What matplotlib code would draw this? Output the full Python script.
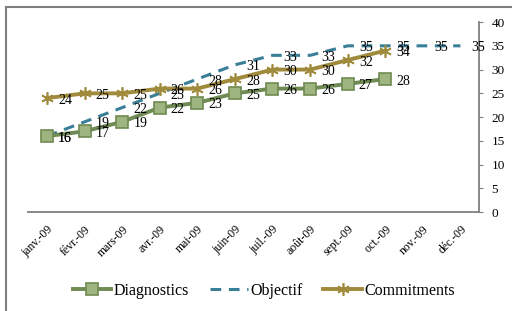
import matplotlib
matplotlib.use("Agg")
import matplotlib.pyplot as plt
from matplotlib.patches import Rectangle

# =============================
# DATA
# =============================
months = ["janv.-09", "févr.-09", "mars-09", "avr.-09", "mai-09", "juin-09",
          "juil.-09", "août-09", "sept.-09", "oct.-09", "nov.-09", "déc.-09"]
diagnostics = [16, 17, 19, 22, 23, 25, 26, 26, 27, 28]
objectif = [16, 19, 22, 25, 28, 31, 33, 33, 35, 35, 35, 35]
commitments = [24, 25, 25, 26, 26, 28, 30, 30, 32, 34]
y_ticks = [0, 5, 10, 15, 20, 25, 30, 35, 40]

# =============================
# STYLE
# =============================
plt.rcParams["font.family"] = ["Liberation Serif", "DejaVu Serif"]
GREEN = "#6f8a52"
GREEN_FILL = "#9fb57f"
BLUE = "#3a7f98"
GOLD = "#a08a3c"

fig = plt.figure(figsize=(5.12, 3.11), dpi=100)
ax = fig.add_axes([0.055, 0.318, 0.881, 0.611])

# outer frame
fig.patches.append(Rectangle((0.012, -0.2), 1.2, 1.177, transform=fig.transFigure,
                             fill=False, edgecolor="#7f7f7f", linewidth=1.5))

x_d = list(range(len(diagnostics)))
x_o = list(range(len(objectif)))
x_c = list(range(len(commitments)))

ax.plot(x_d, diagnostics, color=GREEN, lw=2.8, marker="s", markersize=8,
        markerfacecolor=GREEN_FILL, markeredgecolor=GREEN, markeredgewidth=1.2,
        label="Diagnostics", zorder=3)
ax.plot(x_o, objectif, color=BLUE, lw=2.2, linestyle=(0, (3.5, 2.5)),
        label="Objectif", zorder=2)
ax.plot(x_c, commitments, color=GOLD, lw=2.8, marker=(6, 2, 0), markersize=9,
        markeredgecolor=GOLD, markeredgewidth=1.2, label="Commitments", zorder=3)

# data labels
for series, xs in ((diagnostics, x_d), (objectif, x_o), (commitments, x_c)):
    for xi, v in zip(xs, series):
        ax.annotate(str(v), (xi, v), xytext=(8, -1.5), textcoords="offset points",
                    ha="left", va="center", fontsize=10, color="black")

ax.set_xlim(-0.5, len(months) - 0.5)
ax.set_ylim(0, 40)
ax.set_xticks(range(len(months)))
ax.set_xticklabels(months, rotation=45, ha="right", rotation_mode="anchor",
                   fontsize=8.5)
ax.tick_params(axis="x", length=0, pad=8)
ax.yaxis.tick_right()
ax.set_yticks(y_ticks)
ax.tick_params(axis="y", labelsize=9.5, length=3, pad=6, color="#7f7f7f",
               direction="out")

for side in ("top", "left"):
    ax.spines[side].set_visible(False)
for side in ("right", "bottom"):
    ax.spines[side].set_color("#7f7f7f")
    ax.spines[side].set_linewidth(1.3)

fig.legend(loc="center", bbox_to_anchor=(0.515, 0.065), ncol=3, frameon=False,
           fontsize=11.5, handlelength=2.4, columnspacing=1.3, handletextpad=0.15)

fig.savefig("out.png", dpi=100)
